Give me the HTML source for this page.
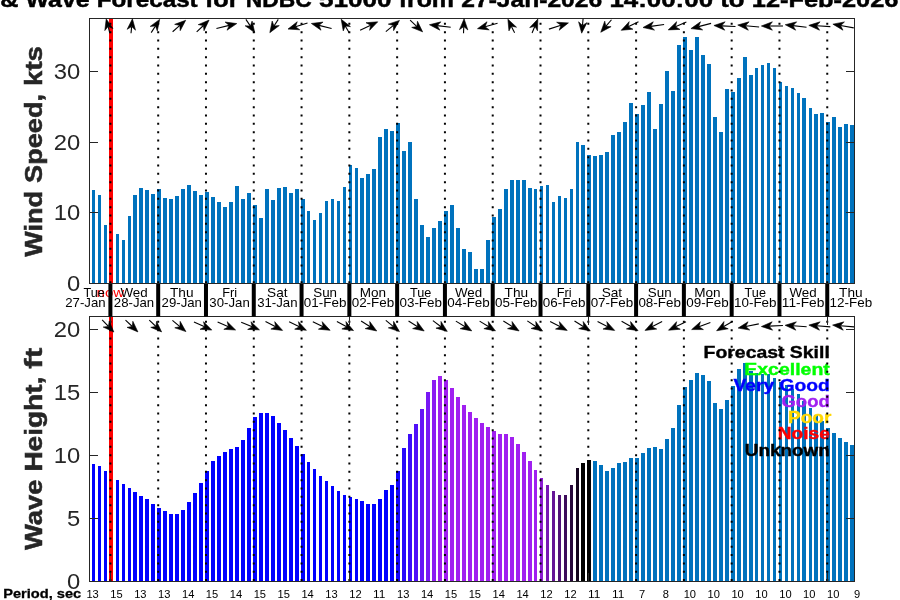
<!DOCTYPE html>
<html><head><meta charset="utf-8"><title>Wind &amp; Wave Forecast NDBC 51000</title>
<style>html,body{margin:0;padding:0;background:#fff;overflow:hidden}svg{display:block;will-change:transform}</style></head>
<body>
<svg width="900" height="600" viewBox="0 0 900 600" font-family="'Liberation Sans', sans-serif">
<rect width="900" height="600" fill="#fff"/>
<g shape-rendering="crispEdges">
<g fill="#0072bd">
<rect x="92" y="190" width="3" height="94"/>
<rect x="98" y="195" width="3" height="89"/>
<rect x="104" y="225" width="3" height="59"/>
<rect x="110" y="230" width="3" height="54"/>
<rect x="116" y="234" width="3" height="50"/>
<rect x="122" y="240" width="3" height="44"/>
<rect x="128" y="216" width="3" height="68"/>
<rect x="133" y="195" width="4" height="89"/>
<rect x="139" y="188" width="4" height="96"/>
<rect x="145" y="190" width="4" height="94"/>
<rect x="151" y="194" width="4" height="90"/>
<rect x="157" y="189" width="4" height="95"/>
<rect x="163" y="198" width="4" height="86"/>
<rect x="169" y="199" width="4" height="85"/>
<rect x="175" y="196" width="4" height="88"/>
<rect x="181" y="189" width="4" height="95"/>
<rect x="187" y="185" width="4" height="99"/>
<rect x="193" y="191" width="4" height="93"/>
<rect x="199" y="195" width="4" height="89"/>
<rect x="205" y="192" width="4" height="92"/>
<rect x="211" y="197" width="4" height="87"/>
<rect x="217" y="202" width="4" height="82"/>
<rect x="223" y="207" width="4" height="77"/>
<rect x="229" y="202" width="4" height="82"/>
<rect x="235" y="186" width="4" height="98"/>
<rect x="241" y="199" width="4" height="85"/>
<rect x="247" y="193" width="4" height="91"/>
<rect x="253" y="205" width="4" height="79"/>
<rect x="259" y="218" width="4" height="66"/>
<rect x="265" y="189" width="4" height="95"/>
<rect x="271" y="200" width="4" height="84"/>
<rect x="277" y="188" width="4" height="96"/>
<rect x="283" y="187" width="4" height="97"/>
<rect x="289" y="193" width="4" height="91"/>
<rect x="295" y="189" width="4" height="95"/>
<rect x="301" y="199" width="4" height="85"/>
<rect x="307" y="211" width="3" height="73"/>
<rect x="313" y="220" width="3" height="64"/>
<rect x="319" y="213" width="3" height="71"/>
<rect x="325" y="201" width="3" height="83"/>
<rect x="331" y="199" width="3" height="85"/>
<rect x="337" y="201" width="3" height="83"/>
<rect x="343" y="187" width="3" height="97"/>
<rect x="349" y="165" width="3" height="119"/>
<rect x="355" y="168" width="3" height="116"/>
<rect x="360" y="178" width="4" height="106"/>
<rect x="366" y="174" width="4" height="110"/>
<rect x="372" y="169" width="4" height="115"/>
<rect x="378" y="137" width="4" height="147"/>
<rect x="384" y="129" width="4" height="155"/>
<rect x="390" y="131" width="4" height="153"/>
<rect x="396" y="123" width="4" height="161"/>
<rect x="402" y="151" width="4" height="133"/>
<rect x="408" y="142" width="4" height="142"/>
<rect x="414" y="199" width="4" height="85"/>
<rect x="420" y="225" width="4" height="59"/>
<rect x="426" y="237" width="4" height="47"/>
<rect x="432" y="228" width="4" height="56"/>
<rect x="438" y="221" width="4" height="63"/>
<rect x="444" y="211" width="4" height="73"/>
<rect x="450" y="205" width="4" height="79"/>
<rect x="456" y="228" width="4" height="56"/>
<rect x="462" y="249" width="4" height="35"/>
<rect x="468" y="252" width="4" height="32"/>
<rect x="474" y="269" width="4" height="15"/>
<rect x="480" y="269" width="4" height="15"/>
<rect x="486" y="240" width="4" height="44"/>
<rect x="492" y="217" width="4" height="67"/>
<rect x="498" y="209" width="4" height="75"/>
<rect x="504" y="189" width="4" height="95"/>
<rect x="510" y="180" width="4" height="104"/>
<rect x="516" y="180" width="4" height="104"/>
<rect x="522" y="180" width="4" height="104"/>
<rect x="528" y="188" width="4" height="96"/>
<rect x="534" y="189" width="3" height="95"/>
<rect x="540" y="186" width="3" height="98"/>
<rect x="546" y="185" width="3" height="99"/>
<rect x="552" y="202" width="3" height="82"/>
<rect x="558" y="196" width="3" height="88"/>
<rect x="564" y="198" width="3" height="86"/>
<rect x="570" y="189" width="3" height="95"/>
<rect x="576" y="142" width="3" height="142"/>
<rect x="581" y="145" width="4" height="139"/>
<rect x="587" y="155" width="4" height="129"/>
<rect x="593" y="156" width="4" height="128"/>
<rect x="599" y="155" width="4" height="129"/>
<rect x="605" y="152" width="4" height="132"/>
<rect x="611" y="135" width="4" height="149"/>
<rect x="617" y="132" width="4" height="152"/>
<rect x="623" y="122" width="4" height="162"/>
<rect x="629" y="103" width="4" height="181"/>
<rect x="635" y="114" width="4" height="170"/>
<rect x="641" y="105" width="4" height="179"/>
<rect x="647" y="92" width="4" height="192"/>
<rect x="653" y="129" width="4" height="155"/>
<rect x="659" y="104" width="4" height="180"/>
<rect x="665" y="71" width="4" height="213"/>
<rect x="671" y="91" width="4" height="193"/>
<rect x="677" y="45" width="4" height="239"/>
<rect x="683" y="37" width="4" height="247"/>
<rect x="689" y="50" width="4" height="234"/>
<rect x="695" y="37" width="4" height="247"/>
<rect x="701" y="55" width="4" height="229"/>
<rect x="707" y="64" width="4" height="220"/>
<rect x="713" y="117" width="4" height="167"/>
<rect x="719" y="132" width="4" height="152"/>
<rect x="725" y="89" width="4" height="195"/>
<rect x="731" y="92" width="4" height="192"/>
<rect x="737" y="78" width="4" height="206"/>
<rect x="743" y="57" width="4" height="227"/>
<rect x="749" y="75" width="4" height="209"/>
<rect x="755" y="68" width="3" height="216"/>
<rect x="761" y="65" width="3" height="219"/>
<rect x="767" y="63" width="3" height="221"/>
<rect x="773" y="68" width="3" height="216"/>
<rect x="779" y="82" width="3" height="202"/>
<rect x="785" y="86" width="3" height="198"/>
<rect x="791" y="88" width="3" height="196"/>
<rect x="797" y="93" width="3" height="191"/>
<rect x="802" y="98" width="4" height="186"/>
<rect x="809" y="108" width="3" height="176"/>
<rect x="814" y="114" width="4" height="170"/>
<rect x="820" y="113" width="4" height="171"/>
<rect x="826" y="122" width="4" height="162"/>
<rect x="832" y="117" width="4" height="167"/>
<rect x="838" y="127" width="4" height="157"/>
<rect x="844" y="124" width="4" height="160"/>
<rect x="850" y="125" width="4" height="159"/>
</g>
<rect x="92" y="464" width="3" height="118" fill="#0000ff"/>
<rect x="98" y="466" width="3" height="116" fill="#0000ff"/>
<rect x="104" y="471" width="3" height="111" fill="#0000ff"/>
<rect x="110" y="475" width="3" height="107" fill="#0000ff"/>
<rect x="116" y="480" width="3" height="102" fill="#0000ff"/>
<rect x="122" y="484" width="3" height="98" fill="#0000ff"/>
<rect x="128" y="488" width="3" height="94" fill="#0000ff"/>
<rect x="133" y="492" width="4" height="90" fill="#0000ff"/>
<rect x="139" y="496" width="4" height="86" fill="#0000ff"/>
<rect x="145" y="499" width="4" height="83" fill="#0000ff"/>
<rect x="151" y="504" width="4" height="78" fill="#0000ff"/>
<rect x="157" y="508" width="4" height="74" fill="#0000ff"/>
<rect x="163" y="511" width="4" height="71" fill="#0000ff"/>
<rect x="169" y="514" width="4" height="68" fill="#0000ff"/>
<rect x="175" y="514" width="4" height="68" fill="#0000ff"/>
<rect x="181" y="510" width="4" height="72" fill="#0000ff"/>
<rect x="187" y="502" width="4" height="80" fill="#0000ff"/>
<rect x="193" y="493" width="4" height="89" fill="#0000ff"/>
<rect x="199" y="483" width="4" height="99" fill="#0000ff"/>
<rect x="205" y="471" width="4" height="111" fill="#0000ff"/>
<rect x="211" y="461" width="4" height="121" fill="#0000ff"/>
<rect x="217" y="456" width="4" height="126" fill="#0000ff"/>
<rect x="223" y="452" width="4" height="130" fill="#0000ff"/>
<rect x="229" y="449" width="4" height="133" fill="#0000ff"/>
<rect x="235" y="447" width="4" height="135" fill="#0000ff"/>
<rect x="241" y="440" width="4" height="142" fill="#0000ff"/>
<rect x="247" y="428" width="4" height="154" fill="#0000ff"/>
<rect x="253" y="417" width="4" height="165" fill="#0000ff"/>
<rect x="259" y="413" width="4" height="169" fill="#0000ff"/>
<rect x="265" y="413" width="4" height="169" fill="#0000ff"/>
<rect x="271" y="416" width="4" height="166" fill="#0000ff"/>
<rect x="277" y="423" width="4" height="159" fill="#0000ff"/>
<rect x="283" y="430" width="4" height="152" fill="#0000ff"/>
<rect x="289" y="438" width="4" height="144" fill="#0000ff"/>
<rect x="295" y="446" width="4" height="136" fill="#0000ff"/>
<rect x="301" y="454" width="4" height="128" fill="#0000ff"/>
<rect x="307" y="462" width="3" height="120" fill="#0000ff"/>
<rect x="313" y="469" width="3" height="113" fill="#0000ff"/>
<rect x="319" y="476" width="3" height="106" fill="#0000ff"/>
<rect x="325" y="481" width="3" height="101" fill="#0000ff"/>
<rect x="331" y="486" width="3" height="96" fill="#0000ff"/>
<rect x="337" y="491" width="3" height="91" fill="#0000ff"/>
<rect x="343" y="495" width="3" height="87" fill="#0000ff"/>
<rect x="349" y="497" width="3" height="85" fill="#0000ff"/>
<rect x="355" y="499" width="3" height="83" fill="#0000ff"/>
<rect x="360" y="501" width="4" height="81" fill="#0000ff"/>
<rect x="366" y="504" width="4" height="78" fill="#0000ff"/>
<rect x="372" y="504" width="4" height="78" fill="#0000ff"/>
<rect x="378" y="499" width="4" height="83" fill="#0000ff"/>
<rect x="384" y="490" width="4" height="92" fill="#0000ff"/>
<rect x="390" y="485" width="4" height="97" fill="#0000ff"/>
<rect x="396" y="471" width="4" height="111" fill="#1404fd"/>
<rect x="402" y="448" width="4" height="134" fill="#2808fb"/>
<rect x="408" y="434" width="4" height="148" fill="#3c0cf9"/>
<rect x="414" y="424" width="4" height="158" fill="#5010f8"/>
<rect x="420" y="409" width="4" height="173" fill="#6414f6"/>
<rect x="426" y="392" width="4" height="190" fill="#7818f4"/>
<rect x="432" y="380" width="4" height="202" fill="#8c1cf2"/>
<rect x="438" y="376" width="4" height="206" fill="#a020f0"/>
<rect x="444" y="380" width="4" height="202" fill="#a020f0"/>
<rect x="450" y="388" width="4" height="194" fill="#a020f0"/>
<rect x="456" y="397" width="4" height="185" fill="#a020f0"/>
<rect x="462" y="405" width="4" height="177" fill="#a020f0"/>
<rect x="468" y="412" width="4" height="170" fill="#a020f0"/>
<rect x="474" y="418" width="4" height="164" fill="#a020f0"/>
<rect x="480" y="423" width="4" height="159" fill="#a020f0"/>
<rect x="486" y="427" width="4" height="155" fill="#a020f0"/>
<rect x="492" y="431" width="4" height="151" fill="#a020f0"/>
<rect x="498" y="434" width="4" height="148" fill="#a020f0"/>
<rect x="504" y="434" width="4" height="148" fill="#a020f0"/>
<rect x="510" y="437" width="4" height="145" fill="#a020f0"/>
<rect x="516" y="444" width="4" height="138" fill="#a020f0"/>
<rect x="522" y="452" width="4" height="130" fill="#a020f0"/>
<rect x="528" y="461" width="4" height="121" fill="#a020f0"/>
<rect x="534" y="470" width="3" height="112" fill="#a020f0"/>
<rect x="540" y="478" width="3" height="104" fill="#8c1cd2"/>
<rect x="546" y="485" width="3" height="97" fill="#7818b4"/>
<rect x="552" y="491" width="3" height="91" fill="#641496"/>
<rect x="558" y="495" width="3" height="87" fill="#501078"/>
<rect x="564" y="495" width="3" height="87" fill="#3c0c5a"/>
<rect x="570" y="485" width="3" height="97" fill="#28083c"/>
<rect x="576" y="468" width="3" height="114" fill="#14041e"/>
<rect x="581" y="463" width="4" height="119" fill="#000000"/>
<rect x="587" y="460" width="4" height="122" fill="#000000"/>
<rect x="593" y="461" width="4" height="121" fill="#0072bd"/>
<rect x="599" y="465" width="4" height="117" fill="#0072bd"/>
<rect x="605" y="471" width="4" height="111" fill="#0072bd"/>
<rect x="611" y="468" width="4" height="114" fill="#0072bd"/>
<rect x="617" y="463" width="4" height="119" fill="#0072bd"/>
<rect x="623" y="462" width="4" height="120" fill="#0072bd"/>
<rect x="629" y="458" width="4" height="124" fill="#0072bd"/>
<rect x="635" y="458" width="4" height="124" fill="#0072bd"/>
<rect x="641" y="453" width="4" height="129" fill="#0072bd"/>
<rect x="647" y="448" width="4" height="134" fill="#0072bd"/>
<rect x="653" y="447" width="4" height="135" fill="#0072bd"/>
<rect x="659" y="449" width="4" height="133" fill="#0072bd"/>
<rect x="665" y="439" width="4" height="143" fill="#0072bd"/>
<rect x="671" y="428" width="4" height="154" fill="#0072bd"/>
<rect x="677" y="405" width="4" height="177" fill="#0072bd"/>
<rect x="683" y="387" width="4" height="195" fill="#0072bd"/>
<rect x="689" y="380" width="4" height="202" fill="#0072bd"/>
<rect x="695" y="373" width="4" height="209" fill="#0072bd"/>
<rect x="701" y="375" width="4" height="207" fill="#0072bd"/>
<rect x="707" y="381" width="4" height="201" fill="#0072bd"/>
<rect x="713" y="403" width="4" height="179" fill="#0072bd"/>
<rect x="719" y="409" width="4" height="173" fill="#0072bd"/>
<rect x="725" y="400" width="4" height="182" fill="#0072bd"/>
<rect x="731" y="386" width="4" height="196" fill="#0072bd"/>
<rect x="737" y="369" width="4" height="213" fill="#0072bd"/>
<rect x="743" y="363" width="4" height="219" fill="#0072bd"/>
<rect x="749" y="371" width="4" height="211" fill="#0072bd"/>
<rect x="755" y="373" width="3" height="209" fill="#0072bd"/>
<rect x="761" y="374" width="3" height="208" fill="#0072bd"/>
<rect x="767" y="374" width="3" height="208" fill="#0072bd"/>
<rect x="773" y="378" width="3" height="204" fill="#0072bd"/>
<rect x="779" y="382" width="3" height="200" fill="#0072bd"/>
<rect x="785" y="385" width="3" height="197" fill="#0072bd"/>
<rect x="791" y="389" width="3" height="193" fill="#0072bd"/>
<rect x="797" y="394" width="3" height="188" fill="#0072bd"/>
<rect x="802" y="401" width="4" height="181" fill="#0072bd"/>
<rect x="809" y="408" width="3" height="174" fill="#0072bd"/>
<rect x="814" y="415" width="4" height="167" fill="#0072bd"/>
<rect x="820" y="421" width="4" height="161" fill="#0072bd"/>
<rect x="826" y="428" width="4" height="154" fill="#0072bd"/>
<rect x="832" y="433" width="4" height="149" fill="#0072bd"/>
<rect x="838" y="438" width="4" height="144" fill="#0072bd"/>
<rect x="844" y="442" width="4" height="140" fill="#0072bd"/>
<rect x="850" y="445" width="4" height="137" fill="#0072bd"/>
<rect x="109" y="18.5" width="4" height="265.0" fill="#ff0000"/>
<rect x="109" y="316.5" width="4" height="265.0" fill="#ff0000"/>
</g>
<text x="829.80" y="358.40" font-size="16.20" text-anchor="end" font-weight="bold" stroke="#000000" stroke-width="0.36" fill="#000000" textLength="126.22" lengthAdjust="spacingAndGlyphs">Forecast Skill</text>
<text x="829.80" y="374.60" font-size="16.20" text-anchor="end" font-weight="bold" stroke="#00ff00" stroke-width="0.36" fill="#00ff00" textLength="85.54" lengthAdjust="spacingAndGlyphs">Excellent</text>
<text x="829.80" y="390.80" font-size="16.20" text-anchor="end" font-weight="bold" stroke="#0000ff" stroke-width="0.36" fill="#0000ff" textLength="96.30" lengthAdjust="spacingAndGlyphs">Very Good</text>
<text x="829.80" y="407.00" font-size="16.20" text-anchor="end" font-weight="bold" stroke="#a020f0" stroke-width="0.36" fill="#a020f0" textLength="48.32" lengthAdjust="spacingAndGlyphs">Good</text>
<text x="831.30" y="423.20" font-size="16.20" text-anchor="end" font-weight="bold" stroke="#ffd700" stroke-width="0.36" fill="#ffd700" textLength="43.16" lengthAdjust="spacingAndGlyphs">Poor</text>
<text x="829.80" y="439.40" font-size="16.20" text-anchor="end" font-weight="bold" stroke="#ff0000" stroke-width="0.36" fill="#ff0000" textLength="52.13" lengthAdjust="spacingAndGlyphs">Noise</text>
<text x="829.80" y="455.60" font-size="16.20" text-anchor="end" font-weight="bold" stroke="#000000" stroke-width="0.36" fill="#000000" textLength="85.00" lengthAdjust="spacingAndGlyphs">Unknown</text>
<g stroke="#000" stroke-width="2" stroke-dasharray="2 6.333">
<line x1="110.40" x2="110.40" y1="22.84" y2="283.5"/>
<line x1="110.40" x2="110.40" y1="320.8" y2="581.5"/>
<line x1="158.19" x2="158.19" y1="22.84" y2="283.5"/>
<line x1="158.19" x2="158.19" y1="320.8" y2="581.5"/>
<line x1="205.98" x2="205.98" y1="22.84" y2="283.5"/>
<line x1="205.98" x2="205.98" y1="320.8" y2="581.5"/>
<line x1="253.77" x2="253.77" y1="22.84" y2="283.5"/>
<line x1="253.77" x2="253.77" y1="320.8" y2="581.5"/>
<line x1="301.56" x2="301.56" y1="22.84" y2="283.5"/>
<line x1="301.56" x2="301.56" y1="320.8" y2="581.5"/>
<line x1="349.35" x2="349.35" y1="22.84" y2="283.5"/>
<line x1="349.35" x2="349.35" y1="320.8" y2="581.5"/>
<line x1="397.14" x2="397.14" y1="22.84" y2="283.5"/>
<line x1="397.14" x2="397.14" y1="320.8" y2="581.5"/>
<line x1="444.93" x2="444.93" y1="22.84" y2="283.5"/>
<line x1="444.93" x2="444.93" y1="320.8" y2="581.5"/>
<line x1="492.72" x2="492.72" y1="22.84" y2="283.5"/>
<line x1="492.72" x2="492.72" y1="320.8" y2="581.5"/>
<line x1="540.51" x2="540.51" y1="22.84" y2="283.5"/>
<line x1="540.51" x2="540.51" y1="320.8" y2="581.5"/>
<line x1="588.30" x2="588.30" y1="22.84" y2="283.5"/>
<line x1="588.30" x2="588.30" y1="320.8" y2="581.5"/>
<line x1="636.09" x2="636.09" y1="22.84" y2="283.5"/>
<line x1="636.09" x2="636.09" y1="320.8" y2="581.5"/>
<line x1="683.88" x2="683.88" y1="22.84" y2="283.5"/>
<line x1="683.88" x2="683.88" y1="320.8" y2="581.5"/>
<line x1="731.67" x2="731.67" y1="22.84" y2="283.5"/>
<line x1="731.67" x2="731.67" y1="320.8" y2="581.5"/>
<line x1="779.46" x2="779.46" y1="22.84" y2="283.5"/>
<line x1="779.46" x2="779.46" y1="320.8" y2="581.5"/>
<line x1="827.25" x2="827.25" y1="22.84" y2="283.5"/>
<line x1="827.25" x2="827.25" y1="320.8" y2="581.5"/>
</g>
<g shape-rendering="crispEdges" fill="none" stroke="#262626" stroke-width="1">
<rect x="89.5" y="18.5" width="765.0" height="265.0"/>
<rect x="89.5" y="316.5" width="765.0" height="265.0"/>
</g>
<g stroke="#262626" stroke-width="1" shape-rendering="crispEdges">
<line x1="89.5" x2="98.0" y1="212.50" y2="212.50"/><line x1="854.5" x2="846.0" y1="212.50" y2="212.50"/>
<line x1="89.5" x2="98.0" y1="142.50" y2="142.50"/><line x1="854.5" x2="846.0" y1="142.50" y2="142.50"/>
<line x1="89.5" x2="98.0" y1="71.50" y2="71.50"/><line x1="854.5" x2="846.0" y1="71.50" y2="71.50"/>
<line x1="89.5" x2="98.0" y1="518.50" y2="518.50"/><line x1="854.5" x2="846.0" y1="518.50" y2="518.50"/>
<line x1="89.5" x2="98.0" y1="455.50" y2="455.50"/><line x1="854.5" x2="846.0" y1="455.50" y2="455.50"/>
<line x1="89.5" x2="98.0" y1="392.50" y2="392.50"/><line x1="854.5" x2="846.0" y1="392.50" y2="392.50"/>
<line x1="89.5" x2="98.0" y1="329.50" y2="329.50"/><line x1="854.5" x2="846.0" y1="329.50" y2="329.50"/>
<line x1="110.50" x2="110.50" y1="316.5" y2="325.0"/><line x1="110.50" x2="110.50" y1="581.5" y2="573.0"/>
<line x1="349.50" x2="349.50" y1="316.5" y2="325.0"/><line x1="349.50" x2="349.50" y1="581.5" y2="573.0"/>
<line x1="588.50" x2="588.50" y1="316.5" y2="325.0"/><line x1="588.50" x2="588.50" y1="581.5" y2="573.0"/>
<line x1="827.50" x2="827.50" y1="316.5" y2="325.0"/><line x1="827.50" x2="827.50" y1="581.5" y2="573.0"/>
</g>
<g>
<path d="M109.78 33.10L108.12 26.47" stroke="#000" stroke-width="1.1" fill="none"/>
<path d="M106.22 18.90L112.97 28.55L108.12 26.47L104.82 30.59Z" fill="#000" stroke="#000" stroke-width="0.6" stroke-linejoin="round"/>
<path d="M131.02 33.18L131.66 26.58" stroke="#000" stroke-width="1.1" fill="none"/>
<path d="M132.42 18.82L135.53 30.17L131.66 26.58L127.17 29.35Z" fill="#000" stroke="#000" stroke-width="0.6" stroke-linejoin="round"/>
<path d="M151.21 32.62L155.47 25.95" stroke="#000" stroke-width="1.1" fill="none"/>
<path d="M159.67 19.38L157.29 30.91L155.47 25.95L150.21 26.39Z" fill="#000" stroke="#000" stroke-width="0.6" stroke-linejoin="round"/>
<path d="M172.61 31.73L179.84 25.41" stroke="#000" stroke-width="1.1" fill="none"/>
<path d="M185.71 20.27L180.19 30.68L179.84 25.41L174.66 24.36Z" fill="#000" stroke="#000" stroke-width="0.6" stroke-linejoin="round"/>
<path d="M196.68 31.89L203.43 25.48" stroke="#000" stroke-width="1.1" fill="none"/>
<path d="M209.08 20.11L204.00 30.73L203.43 25.48L198.22 24.64Z" fill="#000" stroke="#000" stroke-width="0.6" stroke-linejoin="round"/>
<path d="M216.43 28.42L229.18 25.39" stroke="#000" stroke-width="1.1" fill="none"/>
<path d="M236.77 23.58L227.04 30.21L229.18 25.39L225.10 22.04Z" fill="#000" stroke="#000" stroke-width="0.6" stroke-linejoin="round"/>
<path d="M245.90 19.43L250.39 26.10" stroke="#000" stroke-width="1.1" fill="none"/>
<path d="M254.74 32.57L245.11 25.79L250.39 26.10L252.08 21.10Z" fill="#000" stroke="#000" stroke-width="0.6" stroke-linejoin="round"/>
<path d="M278.26 19.37L274.01 26.05" stroke="#000" stroke-width="1.1" fill="none"/>
<path d="M269.82 32.63L272.18 21.09L274.01 26.05L279.27 25.60Z" fill="#000" stroke="#000" stroke-width="0.6" stroke-linejoin="round"/>
<path d="M307.52 22.92L295.44 26.73" stroke="#000" stroke-width="1.1" fill="none"/>
<path d="M288.00 29.08L297.23 21.77L295.44 26.73L299.75 29.78Z" fill="#000" stroke="#000" stroke-width="0.6" stroke-linejoin="round"/>
<path d="M331.59 28.53L318.93 25.36" stroke="#000" stroke-width="1.1" fill="none"/>
<path d="M311.37 23.47L323.06 22.07L318.93 25.36L321.02 30.21Z" fill="#000" stroke="#000" stroke-width="0.6" stroke-linejoin="round"/>
<path d="M349.21 32.69L345.20 26.00" stroke="#000" stroke-width="1.1" fill="none"/>
<path d="M341.19 19.31L350.45 26.59L345.20 26.00L343.25 30.91Z" fill="#000" stroke="#000" stroke-width="0.6" stroke-linejoin="round"/>
<path d="M360.10 30.15L370.69 25.17" stroke="#000" stroke-width="1.1" fill="none"/>
<path d="M377.74 21.85L369.58 30.33L370.69 25.17L366.00 22.73Z" fill="#000" stroke="#000" stroke-width="0.6" stroke-linejoin="round"/>
<path d="M385.82 31.58L393.43 25.36" stroke="#000" stroke-width="1.1" fill="none"/>
<path d="M399.46 20.42L393.61 30.63L393.43 25.36L388.29 24.13Z" fill="#000" stroke="#000" stroke-width="0.6" stroke-linejoin="round"/>
<path d="M410.10 20.13L416.93 26.53" stroke="#000" stroke-width="1.1" fill="none"/>
<path d="M422.62 31.87L411.72 27.41L416.93 26.53L417.47 21.28Z" fill="#000" stroke="#000" stroke-width="0.6" stroke-linejoin="round"/>
<path d="M450.71 27.28L437.20 25.65" stroke="#000" stroke-width="1.1" fill="none"/>
<path d="M429.45 24.72L440.88 21.87L437.20 25.65L439.87 30.21Z" fill="#000" stroke="#000" stroke-width="0.6" stroke-linejoin="round"/>
<path d="M463.52 33.20L463.78 26.60" stroke="#000" stroke-width="1.1" fill="none"/>
<path d="M464.08 18.80L467.85 29.96L463.78 26.60L459.46 29.63Z" fill="#000" stroke="#000" stroke-width="0.6" stroke-linejoin="round"/>
<path d="M497.55 23.33L485.03 26.66" stroke="#000" stroke-width="1.1" fill="none"/>
<path d="M477.49 28.67L487.04 21.78L485.03 26.66L489.20 29.90Z" fill="#000" stroke="#000" stroke-width="0.6" stroke-linejoin="round"/>
<path d="M514.60 32.84L511.32 26.16" stroke="#000" stroke-width="1.1" fill="none"/>
<path d="M507.88 19.16L516.50 27.18L511.32 26.16L508.96 30.88Z" fill="#000" stroke="#000" stroke-width="0.6" stroke-linejoin="round"/>
<path d="M532.08 32.94L534.85 26.26" stroke="#000" stroke-width="1.1" fill="none"/>
<path d="M537.84 19.06L537.50 30.83L534.85 26.26L529.74 27.61Z" fill="#000" stroke="#000" stroke-width="0.6" stroke-linejoin="round"/>
<path d="M548.94 29.11L560.99 25.26" stroke="#000" stroke-width="1.1" fill="none"/>
<path d="M568.42 22.89L559.22 30.24L560.99 25.26L556.66 22.24Z" fill="#000" stroke="#000" stroke-width="0.6" stroke-linejoin="round"/>
<path d="M583.10 18.82L582.46 25.42" stroke="#000" stroke-width="1.1" fill="none"/>
<path d="M581.70 33.18L578.59 21.83L582.46 25.42L586.95 22.64Z" fill="#000" stroke="#000" stroke-width="0.6" stroke-linejoin="round"/>
<path d="M611.49 19.75L605.83 26.33" stroke="#000" stroke-width="1.1" fill="none"/>
<path d="M600.75 32.25L604.74 21.17L605.83 26.33L611.10 26.65Z" fill="#000" stroke="#000" stroke-width="0.6" stroke-linejoin="round"/>
<path d="M638.48 21.68L628.18 26.83" stroke="#000" stroke-width="1.1" fill="none"/>
<path d="M621.20 30.32L629.16 21.64L628.18 26.83L632.92 29.16Z" fill="#000" stroke="#000" stroke-width="0.6" stroke-linejoin="round"/>
<path d="M664.11 24.47L650.73 26.41" stroke="#000" stroke-width="1.1" fill="none"/>
<path d="M643.01 27.53L653.29 21.80L650.73 26.41L654.49 30.11Z" fill="#000" stroke="#000" stroke-width="0.6" stroke-linejoin="round"/>
<path d="M686.36 22.11L675.36 26.82" stroke="#000" stroke-width="1.1" fill="none"/>
<path d="M668.20 29.89L676.65 21.70L675.36 26.82L679.96 29.42Z" fill="#000" stroke="#000" stroke-width="0.6" stroke-linejoin="round"/>
<path d="M711.06 23.39L698.49 26.65" stroke="#000" stroke-width="1.1" fill="none"/>
<path d="M690.94 28.61L700.53 21.78L698.49 26.65L702.64 29.91Z" fill="#000" stroke="#000" stroke-width="0.6" stroke-linejoin="round"/>
<path d="M735.49 26.51L721.74 25.86" stroke="#000" stroke-width="1.1" fill="none"/>
<path d="M713.95 25.49L725.13 21.81L721.74 25.86L724.74 30.21Z" fill="#000" stroke="#000" stroke-width="0.6" stroke-linejoin="round"/>
<path d="M759.14 26.97L745.51 25.73" stroke="#000" stroke-width="1.1" fill="none"/>
<path d="M737.74 25.03L749.07 21.84L745.51 25.73L748.31 30.21Z" fill="#000" stroke="#000" stroke-width="0.6" stroke-linejoin="round"/>
<path d="M782.96 26.00L769.16 26.00" stroke="#000" stroke-width="1.1" fill="none"/>
<path d="M761.36 26.00L772.36 21.80L769.16 26.00L772.36 30.20Z" fill="#000" stroke="#000" stroke-width="0.6" stroke-linejoin="round"/>
<path d="M806.51 27.27L792.99 25.66" stroke="#000" stroke-width="1.1" fill="none"/>
<path d="M785.25 24.73L796.67 21.86L792.99 25.66L795.67 30.21Z" fill="#000" stroke="#000" stroke-width="0.6" stroke-linejoin="round"/>
<path d="M830.36 26.64L816.63 25.82" stroke="#000" stroke-width="1.1" fill="none"/>
<path d="M808.84 25.36L820.07 21.82L816.63 25.82L819.57 30.21Z" fill="#000" stroke="#000" stroke-width="0.6" stroke-linejoin="round"/>
<path d="M853.75 27.86L840.57 25.51" stroke="#000" stroke-width="1.1" fill="none"/>
<path d="M832.89 24.14L844.45 21.94L840.57 25.51L842.98 30.21Z" fill="#000" stroke="#000" stroke-width="0.6" stroke-linejoin="round"/>
<path d="M102.15 319.95L108.43 326.44" stroke="#000" stroke-width="1.1" fill="none"/>
<path d="M113.85 332.05L103.19 327.06L108.43 326.44L109.22 321.22Z" fill="#000" stroke="#000" stroke-width="0.6" stroke-linejoin="round"/>
<path d="M125.52 320.10L132.27 326.52" stroke="#000" stroke-width="1.1" fill="none"/>
<path d="M137.92 331.90L127.05 327.36L132.27 326.52L132.84 321.27Z" fill="#000" stroke="#000" stroke-width="0.6" stroke-linejoin="round"/>
<path d="M149.28 320.09L155.97 326.51" stroke="#000" stroke-width="1.1" fill="none"/>
<path d="M161.60 331.91L150.76 327.33L155.97 326.51L156.57 321.27Z" fill="#000" stroke="#000" stroke-width="0.6" stroke-linejoin="round"/>
<path d="M172.41 320.38L179.91 326.63" stroke="#000" stroke-width="1.1" fill="none"/>
<path d="M185.91 331.62L174.77 327.81L179.91 326.63L180.15 321.35Z" fill="#000" stroke="#000" stroke-width="0.6" stroke-linejoin="round"/>
<path d="M193.97 321.93L204.69 326.83" stroke="#000" stroke-width="1.1" fill="none"/>
<path d="M211.79 330.07L200.04 329.32L204.69 326.83L203.53 321.68Z" fill="#000" stroke="#000" stroke-width="0.6" stroke-linejoin="round"/>
<path d="M217.61 322.01L228.46 326.83" stroke="#000" stroke-width="1.1" fill="none"/>
<path d="M235.59 329.99L223.83 329.36L228.46 326.83L227.24 321.69Z" fill="#000" stroke="#000" stroke-width="0.6" stroke-linejoin="round"/>
<path d="M241.19 322.16L252.26 326.82" stroke="#000" stroke-width="1.1" fill="none"/>
<path d="M259.45 329.84L247.68 329.45L252.26 326.82L250.94 321.71Z" fill="#000" stroke="#000" stroke-width="0.6" stroke-linejoin="round"/>
<path d="M265.49 321.60L275.65 326.83" stroke="#000" stroke-width="1.1" fill="none"/>
<path d="M282.59 330.40L270.89 329.10L275.65 326.83L274.73 321.63Z" fill="#000" stroke="#000" stroke-width="0.6" stroke-linejoin="round"/>
<path d="M289.12 321.68L299.42 326.83" stroke="#000" stroke-width="1.1" fill="none"/>
<path d="M306.40 330.32L294.68 329.16L299.42 326.83L298.44 321.64Z" fill="#000" stroke="#000" stroke-width="0.6" stroke-linejoin="round"/>
<path d="M312.84 321.68L323.14 326.83" stroke="#000" stroke-width="1.1" fill="none"/>
<path d="M330.12 330.32L318.40 329.16L323.14 326.83L322.16 321.64Z" fill="#000" stroke="#000" stroke-width="0.6" stroke-linejoin="round"/>
<path d="M336.88 321.41L346.69 326.82" stroke="#000" stroke-width="1.1" fill="none"/>
<path d="M353.52 330.59L341.86 328.95L346.69 326.82L345.92 321.60Z" fill="#000" stroke="#000" stroke-width="0.6" stroke-linejoin="round"/>
<path d="M361.10 321.03L370.16 326.78" stroke="#000" stroke-width="1.1" fill="none"/>
<path d="M376.74 330.97L365.20 328.62L370.16 326.78L369.71 321.52Z" fill="#000" stroke="#000" stroke-width="0.6" stroke-linejoin="round"/>
<path d="M385.82 320.42L393.43 326.64" stroke="#000" stroke-width="1.1" fill="none"/>
<path d="M399.46 331.58L388.29 327.87L393.43 326.64L393.61 321.37Z" fill="#000" stroke="#000" stroke-width="0.6" stroke-linejoin="round"/>
<path d="M408.54 321.03L417.60 326.78" stroke="#000" stroke-width="1.1" fill="none"/>
<path d="M424.18 330.97L412.64 328.62L417.60 326.78L417.15 321.52Z" fill="#000" stroke="#000" stroke-width="0.6" stroke-linejoin="round"/>
<path d="M432.90 320.62L441.02 326.70" stroke="#000" stroke-width="1.1" fill="none"/>
<path d="M447.26 331.38L435.94 328.14L441.02 326.70L440.98 321.42Z" fill="#000" stroke="#000" stroke-width="0.6" stroke-linejoin="round"/>
<path d="M455.86 321.12L465.09 326.80" stroke="#000" stroke-width="1.1" fill="none"/>
<path d="M471.74 330.88L460.17 328.70L465.09 326.80L464.57 321.54Z" fill="#000" stroke="#000" stroke-width="0.6" stroke-linejoin="round"/>
<path d="M479.58 321.12L488.81 326.80" stroke="#000" stroke-width="1.1" fill="none"/>
<path d="M495.46 330.88L483.89 328.70L488.81 326.80L488.29 321.54Z" fill="#000" stroke="#000" stroke-width="0.6" stroke-linejoin="round"/>
<path d="M503.38 321.06L512.49 326.79" stroke="#000" stroke-width="1.1" fill="none"/>
<path d="M519.10 330.94L507.55 328.64L512.49 326.79L512.02 321.53Z" fill="#000" stroke="#000" stroke-width="0.6" stroke-linejoin="round"/>
<path d="M527.32 320.91L536.11 326.76" stroke="#000" stroke-width="1.1" fill="none"/>
<path d="M542.60 331.09L531.11 328.48L536.11 326.76L535.77 321.49Z" fill="#000" stroke="#000" stroke-width="0.6" stroke-linejoin="round"/>
<path d="M550.13 321.60L560.29 326.83" stroke="#000" stroke-width="1.1" fill="none"/>
<path d="M567.23 330.40L555.53 329.10L560.29 326.83L559.37 321.63Z" fill="#000" stroke="#000" stroke-width="0.6" stroke-linejoin="round"/>
<path d="M574.52 321.08L583.66 326.79" stroke="#000" stroke-width="1.1" fill="none"/>
<path d="M590.28 330.92L578.73 328.66L583.66 326.79L583.18 321.53Z" fill="#000" stroke="#000" stroke-width="0.6" stroke-linejoin="round"/>
<path d="M597.57 321.60L607.73 326.83" stroke="#000" stroke-width="1.1" fill="none"/>
<path d="M614.67 330.40L602.97 329.10L607.73 326.83L606.81 321.63Z" fill="#000" stroke="#000" stroke-width="0.6" stroke-linejoin="round"/>
<path d="M621.61 321.33L631.28 326.82" stroke="#000" stroke-width="1.1" fill="none"/>
<path d="M638.07 330.67L626.43 328.89L631.28 326.82L630.57 321.59Z" fill="#000" stroke="#000" stroke-width="0.6" stroke-linejoin="round"/>
<path d="M662.11 321.60L651.95 326.83" stroke="#000" stroke-width="1.1" fill="none"/>
<path d="M645.01 330.40L652.87 321.63L651.95 326.83L656.71 329.10Z" fill="#000" stroke="#000" stroke-width="0.6" stroke-linejoin="round"/>
<path d="M686.03 321.78L675.56 326.83" stroke="#000" stroke-width="1.1" fill="none"/>
<path d="M668.53 330.22L676.61 321.66L675.56 326.83L680.27 329.22Z" fill="#000" stroke="#000" stroke-width="0.6" stroke-linejoin="round"/>
<path d="M710.36 322.41L698.92 326.80" stroke="#000" stroke-width="1.1" fill="none"/>
<path d="M691.64 329.59L700.40 321.73L698.92 326.80L703.42 329.57Z" fill="#000" stroke="#000" stroke-width="0.6" stroke-linejoin="round"/>
<path d="M732.82 321.24L723.34 326.81" stroke="#000" stroke-width="1.1" fill="none"/>
<path d="M716.62 330.76L723.97 321.57L723.34 326.81L728.23 328.81Z" fill="#000" stroke="#000" stroke-width="0.6" stroke-linejoin="round"/>
<path d="M758.77 323.91L745.75 326.54" stroke="#000" stroke-width="1.1" fill="none"/>
<path d="M738.11 328.09L748.05 321.79L745.75 326.54L749.72 330.03Z" fill="#000" stroke="#000" stroke-width="0.6" stroke-linejoin="round"/>
<path d="M782.93 325.46L769.18 326.15" stroke="#000" stroke-width="1.1" fill="none"/>
<path d="M761.39 326.54L772.17 321.79L769.18 326.15L772.59 330.18Z" fill="#000" stroke="#000" stroke-width="0.6" stroke-linejoin="round"/>
<path d="M806.62 326.73L792.92 325.80" stroke="#000" stroke-width="1.1" fill="none"/>
<path d="M785.14 325.27L796.40 321.83L792.92 325.80L795.82 330.21Z" fill="#000" stroke="#000" stroke-width="0.6" stroke-linejoin="round"/>
<path d="M830.32 326.88L816.66 325.76" stroke="#000" stroke-width="1.1" fill="none"/>
<path d="M808.88 325.12L820.19 321.83L816.66 325.76L819.50 330.21Z" fill="#000" stroke="#000" stroke-width="0.6" stroke-linejoin="round"/>
<path d="M854.04 326.88L840.38 325.76" stroke="#000" stroke-width="1.1" fill="none"/>
<path d="M832.60 325.12L843.91 321.83L840.38 325.76L843.22 330.21Z" fill="#000" stroke="#000" stroke-width="0.6" stroke-linejoin="round"/>
</g>
<text x="-66.96" y="6.95" font-size="21.30" text-anchor="start" font-weight="bold" stroke="#000" stroke-width="0.47" fill="#000" textLength="59.86" lengthAdjust="spacingAndGlyphs">Wind</text>
<text x="0.15" y="6.95" font-size="21.30" text-anchor="start" font-weight="bold" stroke="#000" stroke-width="0.47" fill="#000" textLength="18.17" lengthAdjust="spacingAndGlyphs">&amp;</text>
<text x="25.57" y="6.95" font-size="21.30" text-anchor="start" font-weight="bold" stroke="#000" stroke-width="0.47" fill="#000" textLength="64.00" lengthAdjust="spacingAndGlyphs">Wave</text>
<text x="96.81" y="6.95" font-size="21.30" text-anchor="start" font-weight="bold" stroke="#000" stroke-width="0.47" fill="#000" textLength="100.86" lengthAdjust="spacingAndGlyphs">Forecast</text>
<text x="204.92" y="6.95" font-size="21.30" text-anchor="start" font-weight="bold" stroke="#000" stroke-width="0.47" fill="#000" textLength="33.65" lengthAdjust="spacingAndGlyphs">for</text>
<text x="245.82" y="6.95" font-size="21.30" text-anchor="start" font-weight="bold" stroke="#000" stroke-width="0.47" fill="#000" textLength="65.89" lengthAdjust="spacingAndGlyphs">NDBC</text>
<text x="318.96" y="6.95" font-size="21.30" text-anchor="start" font-weight="bold" stroke="#000" stroke-width="0.47" fill="#000" textLength="72.47" lengthAdjust="spacingAndGlyphs">51000</text>
<text x="398.68" y="6.95" font-size="21.30" text-anchor="start" font-weight="bold" stroke="#000" stroke-width="0.47" fill="#000" textLength="55.35" lengthAdjust="spacingAndGlyphs">from</text>
<text x="461.28" y="6.95" font-size="21.30" text-anchor="start" font-weight="bold" stroke="#000" stroke-width="0.47" fill="#000" textLength="140.89" lengthAdjust="spacingAndGlyphs">27-Jan-2026</text>
<text x="609.42" y="6.95" font-size="21.30" text-anchor="start" font-weight="bold" stroke="#000" stroke-width="0.47" fill="#000" textLength="103.62" lengthAdjust="spacingAndGlyphs">14:00:00</text>
<text x="720.29" y="6.95" font-size="21.30" text-anchor="start" font-weight="bold" stroke="#000" stroke-width="0.47" fill="#000" textLength="24.27" lengthAdjust="spacingAndGlyphs">to</text>
<text x="751.81" y="6.95" font-size="21.30" text-anchor="start" font-weight="bold" stroke="#000" stroke-width="0.47" fill="#000" textLength="146.67" lengthAdjust="spacingAndGlyphs">12-Feb-2026</text>
<text x="905.74" y="6.95" font-size="21.30" text-anchor="start" font-weight="bold" stroke="#000" stroke-width="0.47" fill="#000" textLength="103.62" lengthAdjust="spacingAndGlyphs">14:00:00</text>
<text x="80.30" y="291.10" font-size="21.20" text-anchor="end" fill="#262626" textLength="13.25" lengthAdjust="spacingAndGlyphs">0</text>
<text x="80.30" y="220.43" font-size="21.20" text-anchor="end" fill="#262626" textLength="26.51" lengthAdjust="spacingAndGlyphs">10</text>
<text x="80.30" y="149.77" font-size="21.20" text-anchor="end" fill="#262626" textLength="26.51" lengthAdjust="spacingAndGlyphs">20</text>
<text x="80.30" y="79.10" font-size="21.20" text-anchor="end" fill="#262626" textLength="26.51" lengthAdjust="spacingAndGlyphs">30</text>
<text x="80.30" y="589.10" font-size="21.20" text-anchor="end" fill="#262626" textLength="13.25" lengthAdjust="spacingAndGlyphs">0</text>
<text x="80.30" y="526.00" font-size="21.20" text-anchor="end" fill="#262626" textLength="13.25" lengthAdjust="spacingAndGlyphs">5</text>
<text x="80.30" y="462.91" font-size="21.20" text-anchor="end" fill="#262626" textLength="26.51" lengthAdjust="spacingAndGlyphs">10</text>
<text x="80.30" y="399.81" font-size="21.20" text-anchor="end" fill="#262626" textLength="26.51" lengthAdjust="spacingAndGlyphs">15</text>
<text x="80.30" y="336.72" font-size="21.20" text-anchor="end" fill="#262626" textLength="26.51" lengthAdjust="spacingAndGlyphs">20</text>
<text x="42.30" y="256.70" font-size="23.40" text-anchor="start" font-weight="bold" stroke="#262626" stroke-width="0.51" fill="#262626" textLength="65.80" lengthAdjust="spacingAndGlyphs" transform="rotate(-90 42.30 256.70)">Wind</text>
<text x="42.30" y="182.92" font-size="23.40" text-anchor="start" font-weight="bold" stroke="#262626" stroke-width="0.51" fill="#262626" textLength="89.04" lengthAdjust="spacingAndGlyphs" transform="rotate(-90 42.30 182.92)">Speed,</text>
<text x="42.30" y="85.91" font-size="23.40" text-anchor="start" font-weight="bold" stroke="#262626" stroke-width="0.51" fill="#262626" textLength="39.81" lengthAdjust="spacingAndGlyphs" transform="rotate(-90 42.30 85.91)">kts</text>
<text x="42.30" y="549.95" font-size="23.40" text-anchor="start" font-weight="bold" stroke="#262626" stroke-width="0.51" fill="#262626" textLength="70.36" lengthAdjust="spacingAndGlyphs" transform="rotate(-90 42.30 549.95)">Wave</text>
<text x="42.30" y="471.62" font-size="23.40" text-anchor="start" font-weight="bold" stroke="#262626" stroke-width="0.51" fill="#262626" textLength="94.89" lengthAdjust="spacingAndGlyphs" transform="rotate(-90 42.30 471.62)">Height,</text>
<text x="42.30" y="368.76" font-size="23.40" text-anchor="start" font-weight="bold" stroke="#262626" stroke-width="0.51" fill="#262626" textLength="20.91" lengthAdjust="spacingAndGlyphs" transform="rotate(-90 42.30 368.76)">ft</text>
<text x="110.40" y="296.70" font-size="13.00" text-anchor="middle" fill="#ff0000" textLength="27.65" lengthAdjust="spacingAndGlyphs">now</text>
<text x="134.00" y="296.70" font-size="12.80" text-anchor="middle" fill="#000" textLength="27.25" lengthAdjust="spacingAndGlyphs">Wed</text>
<text x="134.00" y="306.70" font-size="12.80" text-anchor="middle" fill="#000" textLength="40.38" lengthAdjust="spacingAndGlyphs">28-Jan</text>
<text x="181.79" y="296.70" font-size="12.80" text-anchor="middle" fill="#000" textLength="23.48" lengthAdjust="spacingAndGlyphs">Thu</text>
<text x="181.79" y="306.70" font-size="12.80" text-anchor="middle" fill="#000" textLength="40.38" lengthAdjust="spacingAndGlyphs">29-Jan</text>
<text x="229.58" y="296.70" font-size="12.80" text-anchor="middle" fill="#000" textLength="14.89" lengthAdjust="spacingAndGlyphs">Fri</text>
<text x="229.58" y="306.70" font-size="12.80" text-anchor="middle" fill="#000" textLength="40.38" lengthAdjust="spacingAndGlyphs">30-Jan</text>
<text x="277.37" y="296.70" font-size="12.80" text-anchor="middle" fill="#000" textLength="20.50" lengthAdjust="spacingAndGlyphs">Sat</text>
<text x="277.37" y="306.70" font-size="12.80" text-anchor="middle" fill="#000" textLength="40.38" lengthAdjust="spacingAndGlyphs">31-Jan</text>
<text x="325.16" y="296.70" font-size="12.80" text-anchor="middle" fill="#000" textLength="23.78" lengthAdjust="spacingAndGlyphs">Sun</text>
<text x="325.16" y="306.70" font-size="12.80" text-anchor="middle" fill="#000" textLength="42.55" lengthAdjust="spacingAndGlyphs">01-Feb</text>
<text x="372.95" y="296.70" font-size="12.80" text-anchor="middle" fill="#000" textLength="26.36" lengthAdjust="spacingAndGlyphs">Mon</text>
<text x="372.95" y="306.70" font-size="12.80" text-anchor="middle" fill="#000" textLength="42.55" lengthAdjust="spacingAndGlyphs">02-Feb</text>
<text x="420.74" y="296.70" font-size="12.80" text-anchor="middle" fill="#000" textLength="21.35" lengthAdjust="spacingAndGlyphs">Tue</text>
<text x="420.74" y="306.70" font-size="12.80" text-anchor="middle" fill="#000" textLength="42.55" lengthAdjust="spacingAndGlyphs">03-Feb</text>
<text x="468.53" y="296.70" font-size="12.80" text-anchor="middle" fill="#000" textLength="27.25" lengthAdjust="spacingAndGlyphs">Wed</text>
<text x="468.53" y="306.70" font-size="12.80" text-anchor="middle" fill="#000" textLength="42.55" lengthAdjust="spacingAndGlyphs">04-Feb</text>
<text x="516.32" y="296.70" font-size="12.80" text-anchor="middle" fill="#000" textLength="23.48" lengthAdjust="spacingAndGlyphs">Thu</text>
<text x="516.32" y="306.70" font-size="12.80" text-anchor="middle" fill="#000" textLength="42.55" lengthAdjust="spacingAndGlyphs">05-Feb</text>
<text x="564.11" y="296.70" font-size="12.80" text-anchor="middle" fill="#000" textLength="14.89" lengthAdjust="spacingAndGlyphs">Fri</text>
<text x="564.11" y="306.70" font-size="12.80" text-anchor="middle" fill="#000" textLength="42.55" lengthAdjust="spacingAndGlyphs">06-Feb</text>
<text x="611.90" y="296.70" font-size="12.80" text-anchor="middle" fill="#000" textLength="20.50" lengthAdjust="spacingAndGlyphs">Sat</text>
<text x="611.90" y="306.70" font-size="12.80" text-anchor="middle" fill="#000" textLength="42.55" lengthAdjust="spacingAndGlyphs">07-Feb</text>
<text x="659.69" y="296.70" font-size="12.80" text-anchor="middle" fill="#000" textLength="23.78" lengthAdjust="spacingAndGlyphs">Sun</text>
<text x="659.69" y="306.70" font-size="12.80" text-anchor="middle" fill="#000" textLength="42.55" lengthAdjust="spacingAndGlyphs">08-Feb</text>
<text x="707.48" y="296.70" font-size="12.80" text-anchor="middle" fill="#000" textLength="26.36" lengthAdjust="spacingAndGlyphs">Mon</text>
<text x="707.48" y="306.70" font-size="12.80" text-anchor="middle" fill="#000" textLength="42.55" lengthAdjust="spacingAndGlyphs">09-Feb</text>
<text x="755.27" y="296.70" font-size="12.80" text-anchor="middle" fill="#000" textLength="21.35" lengthAdjust="spacingAndGlyphs">Tue</text>
<text x="755.27" y="306.70" font-size="12.80" text-anchor="middle" fill="#000" textLength="42.55" lengthAdjust="spacingAndGlyphs">10-Feb</text>
<text x="803.06" y="296.70" font-size="12.80" text-anchor="middle" fill="#000" textLength="27.25" lengthAdjust="spacingAndGlyphs">Wed</text>
<text x="803.06" y="306.70" font-size="12.80" text-anchor="middle" fill="#000" textLength="42.55" lengthAdjust="spacingAndGlyphs">11-Feb</text>
<text x="850.85" y="296.70" font-size="12.80" text-anchor="middle" fill="#000" textLength="23.48" lengthAdjust="spacingAndGlyphs">Thu</text>
<text x="850.85" y="306.70" font-size="12.80" text-anchor="middle" fill="#000" textLength="42.55" lengthAdjust="spacingAndGlyphs">12-Feb</text>
<text x="94.20" y="296.70" font-size="12.80" text-anchor="middle" fill="#000" textLength="21.35" lengthAdjust="spacingAndGlyphs">Tue</text>
<text x="85.40" y="306.70" font-size="12.80" text-anchor="middle" fill="#000" textLength="40.38" lengthAdjust="spacingAndGlyphs">27-Jan</text>
<g fill="#000">
<rect x="108.40" y="284" width="4" height="32.5"/>
<rect x="156.19" y="284" width="4" height="32.5"/>
<rect x="203.98" y="284" width="4" height="32.5"/>
<rect x="251.77" y="284" width="4" height="32.5"/>
<rect x="299.56" y="284" width="4" height="32.5"/>
<rect x="347.35" y="284" width="4" height="32.5"/>
<rect x="395.14" y="284" width="4" height="32.5"/>
<rect x="442.93" y="284" width="4" height="32.5"/>
<rect x="490.72" y="284" width="4" height="32.5"/>
<rect x="538.51" y="284" width="4" height="32.5"/>
<rect x="586.30" y="284" width="4" height="32.5"/>
<rect x="634.09" y="284" width="4" height="32.5"/>
<rect x="681.88" y="284" width="4" height="32.5"/>
<rect x="729.67" y="284" width="4" height="32.5"/>
<rect x="777.46" y="284" width="4" height="32.5"/>
<rect x="825.25" y="284" width="4" height="32.5"/>
</g>
<text x="3.20" y="598.30" font-size="12.10" text-anchor="start" font-weight="bold" stroke="#000" stroke-width="0.27" fill="#000" textLength="78.05" lengthAdjust="spacingAndGlyphs">Period, sec</text>
<text x="92.60" y="597.70" font-size="10.40" text-anchor="middle" fill="#000" textLength="12.37" lengthAdjust="spacingAndGlyphs">13</text>
<text x="116.49" y="597.70" font-size="10.40" text-anchor="middle" fill="#000" textLength="12.37" lengthAdjust="spacingAndGlyphs">15</text>
<text x="140.38" y="597.70" font-size="10.40" text-anchor="middle" fill="#000" textLength="12.37" lengthAdjust="spacingAndGlyphs">13</text>
<text x="164.27" y="597.70" font-size="10.40" text-anchor="middle" fill="#000" textLength="12.37" lengthAdjust="spacingAndGlyphs">13</text>
<text x="188.16" y="597.70" font-size="10.40" text-anchor="middle" fill="#000" textLength="12.37" lengthAdjust="spacingAndGlyphs">14</text>
<text x="212.05" y="597.70" font-size="10.40" text-anchor="middle" fill="#000" textLength="12.37" lengthAdjust="spacingAndGlyphs">15</text>
<text x="235.94" y="597.70" font-size="10.40" text-anchor="middle" fill="#000" textLength="12.37" lengthAdjust="spacingAndGlyphs">14</text>
<text x="259.83" y="597.70" font-size="10.40" text-anchor="middle" fill="#000" textLength="12.37" lengthAdjust="spacingAndGlyphs">15</text>
<text x="283.72" y="597.70" font-size="10.40" text-anchor="middle" fill="#000" textLength="12.37" lengthAdjust="spacingAndGlyphs">15</text>
<text x="307.61" y="597.70" font-size="10.40" text-anchor="middle" fill="#000" textLength="12.37" lengthAdjust="spacingAndGlyphs">14</text>
<text x="331.50" y="597.70" font-size="10.40" text-anchor="middle" fill="#000" textLength="12.37" lengthAdjust="spacingAndGlyphs">13</text>
<text x="355.39" y="597.70" font-size="10.40" text-anchor="middle" fill="#000" textLength="12.37" lengthAdjust="spacingAndGlyphs">12</text>
<text x="379.28" y="597.70" font-size="10.40" text-anchor="middle" fill="#000" textLength="12.37" lengthAdjust="spacingAndGlyphs">11</text>
<text x="403.17" y="597.70" font-size="10.40" text-anchor="middle" fill="#000" textLength="12.37" lengthAdjust="spacingAndGlyphs">13</text>
<text x="427.06" y="597.70" font-size="10.40" text-anchor="middle" fill="#000" textLength="12.37" lengthAdjust="spacingAndGlyphs">14</text>
<text x="450.95" y="597.70" font-size="10.40" text-anchor="middle" fill="#000" textLength="12.37" lengthAdjust="spacingAndGlyphs">15</text>
<text x="474.84" y="597.70" font-size="10.40" text-anchor="middle" fill="#000" textLength="12.37" lengthAdjust="spacingAndGlyphs">15</text>
<text x="498.73" y="597.70" font-size="10.40" text-anchor="middle" fill="#000" textLength="12.37" lengthAdjust="spacingAndGlyphs">14</text>
<text x="522.62" y="597.70" font-size="10.40" text-anchor="middle" fill="#000" textLength="12.37" lengthAdjust="spacingAndGlyphs">14</text>
<text x="546.51" y="597.70" font-size="10.40" text-anchor="middle" fill="#000" textLength="12.37" lengthAdjust="spacingAndGlyphs">12</text>
<text x="570.40" y="597.70" font-size="10.40" text-anchor="middle" fill="#000" textLength="12.37" lengthAdjust="spacingAndGlyphs">12</text>
<text x="594.29" y="597.70" font-size="10.40" text-anchor="middle" fill="#000" textLength="12.37" lengthAdjust="spacingAndGlyphs">11</text>
<text x="618.18" y="597.70" font-size="10.40" text-anchor="middle" fill="#000" textLength="12.37" lengthAdjust="spacingAndGlyphs">11</text>
<text x="642.07" y="597.70" font-size="10.40" text-anchor="middle" fill="#000" textLength="6.18" lengthAdjust="spacingAndGlyphs">7</text>
<text x="665.96" y="597.70" font-size="10.40" text-anchor="middle" fill="#000" textLength="6.18" lengthAdjust="spacingAndGlyphs">8</text>
<text x="689.85" y="597.70" font-size="10.40" text-anchor="middle" fill="#000" textLength="12.37" lengthAdjust="spacingAndGlyphs">10</text>
<text x="713.74" y="597.70" font-size="10.40" text-anchor="middle" fill="#000" textLength="12.37" lengthAdjust="spacingAndGlyphs">10</text>
<text x="737.63" y="597.70" font-size="10.40" text-anchor="middle" fill="#000" textLength="12.37" lengthAdjust="spacingAndGlyphs">10</text>
<text x="761.52" y="597.70" font-size="10.40" text-anchor="middle" fill="#000" textLength="12.37" lengthAdjust="spacingAndGlyphs">10</text>
<text x="785.41" y="597.70" font-size="10.40" text-anchor="middle" fill="#000" textLength="12.37" lengthAdjust="spacingAndGlyphs">10</text>
<text x="809.30" y="597.70" font-size="10.40" text-anchor="middle" fill="#000" textLength="12.37" lengthAdjust="spacingAndGlyphs">10</text>
<text x="833.19" y="597.70" font-size="10.40" text-anchor="middle" fill="#000" textLength="12.37" lengthAdjust="spacingAndGlyphs">10</text>
<text x="857.08" y="597.70" font-size="10.40" text-anchor="middle" fill="#000" textLength="6.18" lengthAdjust="spacingAndGlyphs">9</text>
</svg>
</body></html>
